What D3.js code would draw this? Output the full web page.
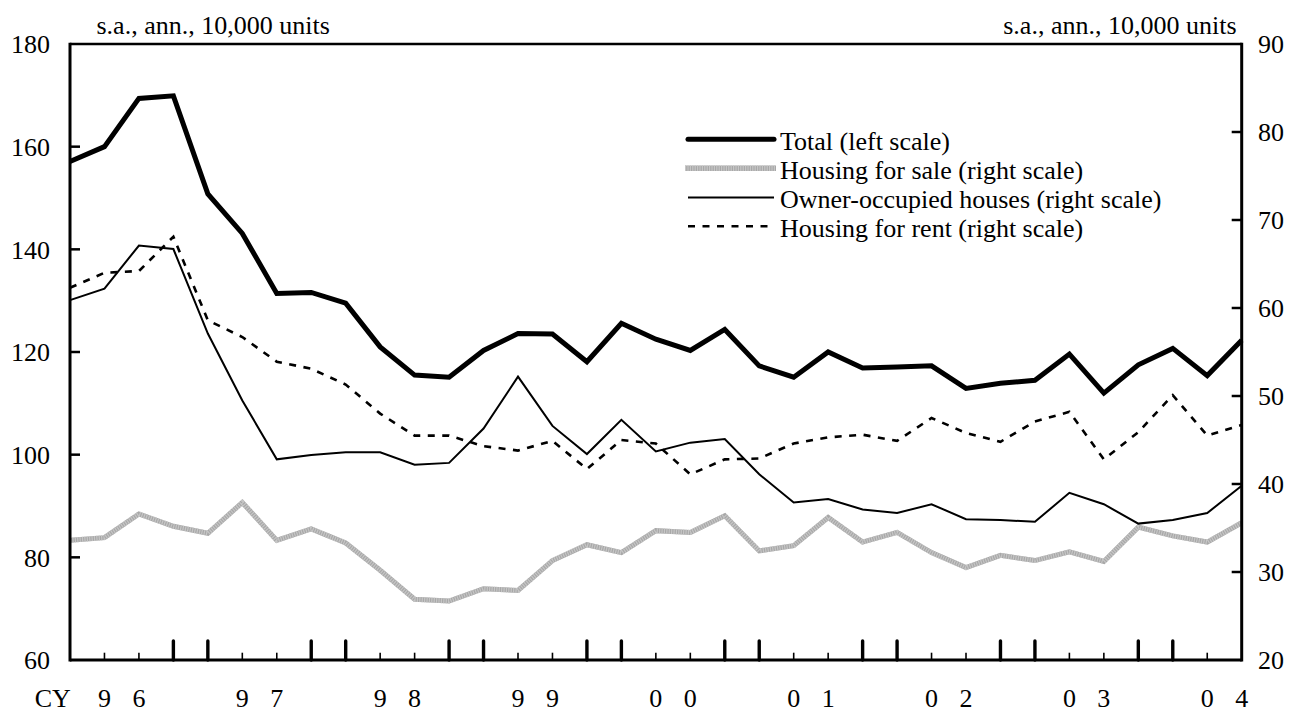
<!DOCTYPE html>
<html>
<head>
<meta charset="utf-8">
<script src="https://cdn.jsdelivr.net/npm/d3@7"></script>
<style>
  html, body { margin: 0; padding: 0; background: #fff; }
  svg { display: block; }
  text { font-family: "Liberation Serif", "Times New Roman", serif; fill: #000; }
</style>
</head>
<body>
<svg id="chart" width="1290" height="713"></svg>
<script>
// ---------- data ----------
const categories = [
  "1996Q1","1996Q2","1996Q3","1996Q4",
  "1997Q1","1997Q2","1997Q3","1997Q4",
  "1998Q1","1998Q2","1998Q3","1998Q4",
  "1999Q1","1999Q2","1999Q3","1999Q4",
  "2000Q1","2000Q2","2000Q3","2000Q4",
  "2001Q1","2001Q2","2001Q3","2001Q4",
  "2002Q1","2002Q2","2002Q3","2002Q4",
  "2003Q1","2003Q2","2003Q3","2003Q4",
  "2004Q1","2004Q2","2004Q3"
];
const total = [157.1,160.0,169.4,169.9,150.8,143.1,131.4,131.6,129.5,121.0,115.5,115.1,
  120.3,123.6,123.5,118.1,125.6,122.5,120.3,124.4,117.3,115.1,120.0,116.9,117.1,117.3,
  112.9,113.9,114.5,119.6,112.0,117.5,120.7,115.4,122.3];
const forSale = [33.6,33.9,36.6,35.2,34.4,37.9,33.6,34.9,33.3,30.2,26.9,26.7,
  28.1,27.9,31.3,33.1,32.2,34.7,34.5,36.4,32.4,33.0,36.2,33.4,34.5,32.2,
  30.5,31.9,31.3,32.3,31.2,35.1,34.1,33.4,35.6];
const ownerOccupied = [60.9,62.2,67.1,66.7,57.1,49.5,42.8,43.3,43.6,43.6,42.2,42.4,
  46.3,52.2,46.6,43.4,47.3,43.7,44.7,45.1,41.1,37.9,38.3,37.1,36.7,37.7,
  36.0,35.9,35.7,39.0,37.7,35.5,35.9,36.7,39.8];
const forRent = [62.3,64.0,64.2,68.1,58.6,56.7,53.9,53.1,51.3,48.0,45.5,45.5,
  44.3,43.8,44.9,41.7,45.0,44.6,41.1,42.8,42.9,44.6,45.3,45.6,44.9,47.5,
  45.8,44.8,47.1,48.2,42.8,45.9,50.1,45.5,46.7];
const leftTicks = [60, 80, 100, 120, 140, 160, 180];
const rightTicks = [20, 30, 40, 50, 60, 70, 80, 90];
const yearLabels = ["96","97","98","99","00","01","02","03","04"];
const seriesNames = ["Total (left scale)", "Housing for sale (right scale)",
  "Owner-occupied houses (right scale)", "Housing for rent (right scale)"];
const unitLabel = "s.a., ann., 10,000 units";

// ---------- layout ----------
const svg = d3.select("#chart");
const X0 = 70, X1 = 1241.7, YT = 44, YB = 660;
const x = d3.scalePoint().domain(categories).range([X0, X1]);
const yL = d3.scaleLinear().domain([60, 180]).range([YB, YT]);
const yR = d3.scaleLinear().domain([20, 90]).range([YB, YT]);
const FS = 26;

// ---------- series ----------
const lineL = d3.line().x((d, i) => x(categories[i])).y(d => yL(d));
const lineR = d3.line().x((d, i) => x(categories[i])).y(d => yR(d));
const g = svg.append("g");

// Housing for sale: grey hatched thick line
g.append("path").attr("d", lineR(forSale)).attr("fill", "none")
  .attr("stroke", "#a8a8a8").attr("stroke-width", 5);
g.append("path").attr("d", lineR(forSale)).attr("fill", "none")
  .attr("stroke", "#c6c6c6").attr("stroke-width", 5).attr("stroke-dasharray", "1.2 1.2");
// Owner-occupied
g.append("path").attr("d", lineR(ownerOccupied)).attr("fill", "none")
  .attr("stroke", "#000").attr("stroke-width", 2);
// Rent
g.append("path").attr("d", lineR(forRent)).attr("fill", "none")
  .attr("stroke", "#000").attr("stroke-width", 2.6).attr("stroke-dasharray", "7 7.5");
// Total
g.append("path").attr("d", lineL(total)).attr("fill", "none")
  .attr("stroke", "#000").attr("stroke-width", 5);

// ---------- frame & axes ----------
const ax = svg.append("g").attr("stroke", "#000");
ax.append("line").attr("x1", X0).attr("x2", X1).attr("y1", YT).attr("y2", YT).attr("stroke-width", 2.7);
ax.append("line").attr("x1", X0).attr("x2", X1).attr("y1", YB).attr("y2", YB).attr("stroke-width", 3);
ax.append("line").attr("x1", X0).attr("x2", X0).attr("y1", YT - 1.3).attr("y2", YB + 1.5).attr("stroke-width", 3);
ax.append("line").attr("x1", X1).attr("x2", X1).attr("y1", YT - 1.3).attr("y2", YB + 1.5).attr("stroke-width", 3);

// left ticks (inward)
ax.selectAll(".lt").data(leftTicks.filter(v => v > 60 && v < 180)).enter().append("line")
  .attr("x1", X0).attr("x2", X0 + 10).attr("y1", d => yL(d)).attr("y2", d => yL(d)).attr("stroke-width", 2.5);
// right ticks (inward)
ax.selectAll(".rt").data(rightTicks.filter(v => v > 20 && v < 90)).enter().append("line")
  .attr("x1", X1).attr("x2", X1 - 10).attr("y1", d => yR(d)).attr("y2", d => yR(d)).attr("stroke-width", 2.5);

// bottom ticks: tall at quarter boundaries around year end, small otherwise
categories.forEach((c, i) => {
  if (i === 0 || i === categories.length - 1) return;
  const tall = (i % 4 === 3 || i % 4 === 0);
  ax.append("line")
    .attr("x1", x(c)).attr("x2", x(c))
    .attr("y1", YB).attr("y2", tall ? YB - 19 : YB - 7.3)
    .attr("stroke-width", tall ? 3.4 : 1.6)
    .attr("stroke-linecap", tall ? "round" : "butt");
});

// tick labels
svg.selectAll(".ll").data(leftTicks).enter().append("text")
  .attr("x", 50).attr("y", d => yL(d) + 9.3).attr("text-anchor", "end")
  .attr("font-size", FS).text(d => d);
svg.selectAll(".rl").data(rightTicks).enter().append("text")
  .attr("x", 1258).attr("y", d => yR(d) + 9.3).attr("text-anchor", "start")
  .attr("font-size", FS).text(d => d);

// bottom year labels: digits spread over 2nd and 3rd quarter
const step = x.step();
svg.append("text").attr("x", X0 - step / 2).attr("y", 707).attr("text-anchor", "middle")
  .attr("font-size", FS).text("CY");
yearLabels.forEach((yl, k) => {
  [0, 1].forEach(j => {
    const idx = 4 * k + 1 + j;
    svg.append("text").attr("x", x(categories[idx])).attr("y", 707)
      .attr("text-anchor", "middle").attr("font-size", FS).text(yl[j]);
  });
});

// unit labels
svg.append("text").attr("x", 96.5).attr("y", 33.5).attr("font-size", FS).text(unitLabel);
svg.append("text").attr("x", 1236.5).attr("y", 33.5).attr("text-anchor", "end").attr("font-size", FS).text(unitLabel);

// ---------- legend ----------
const legY = [139.3, 168.3, 197.5, 226.2];
const lg = svg.append("g");
const LX0 = 688, LX1 = 774;
lg.append("line").attr("x1", LX0).attr("x2", LX1).attr("y1", legY[0]).attr("y2", legY[0])
  .attr("stroke", "#000").attr("stroke-width", 5).attr("stroke-linecap", "round");
lg.append("line").attr("x1", LX0 - 3).attr("x2", LX1 + 2).attr("y1", legY[1]).attr("y2", legY[1])
  .attr("stroke", "#a8a8a8").attr("stroke-width", 5.5);
lg.append("line").attr("x1", LX0 - 3).attr("x2", LX1 + 2).attr("y1", legY[1]).attr("y2", legY[1])
  .attr("stroke", "#c6c6c6").attr("stroke-width", 5.5).attr("stroke-dasharray", "1.2 1.2");
lg.append("line").attr("x1", LX0).attr("x2", LX1).attr("y1", legY[2]).attr("y2", legY[2])
  .attr("stroke", "#000").attr("stroke-width", 2);
lg.append("line").attr("x1", LX0).attr("x2", LX1).attr("y1", legY[3]).attr("y2", legY[3])
  .attr("stroke", "#000").attr("stroke-width", 2.6).attr("stroke-dasharray", "7 7.5");
seriesNames.forEach((n, i) => {
  lg.append("text").attr("x", 780).attr("y", legY[i] + 10.5).attr("font-size", FS).text(n);
});
</script>
</body>
</html>
